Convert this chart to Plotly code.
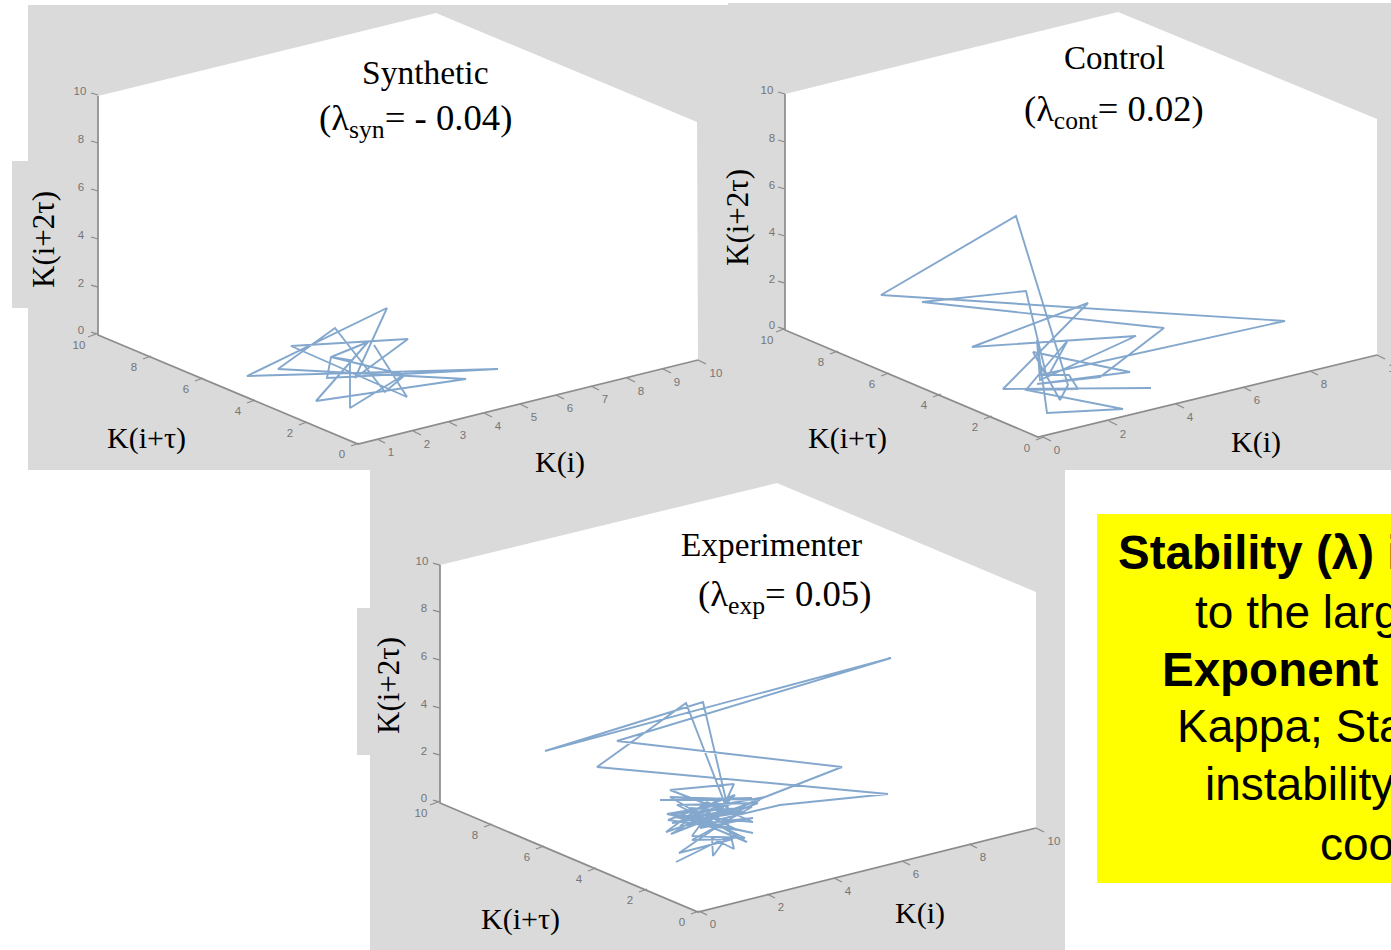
import plotly.graph_objects as go

W, H = 1391, 950

syn_x = [374, 407, 291, 408, 355, 387, 247, 498, 327, 331, 368, 316, 466, 278, 335, 385, 405, 331, 350, 350, 407]
syn_y = [345, 397, 346, 339, 378, 308, 376, 369, 378, 357, 342, 401, 379, 369, 328, 392, 375, 357, 360, 408, 373]

cont_x = [1151, 1003, 1088, 972, 1136, 1040, 1037, 1047, 1123, 1026, 1068, 1047, 1026, 922, 1164, 1100, 1037, 1130,
          1033, 1060, 1068, 1016, 881, 1285, 1040, 1069, 1078, 1026]
cont_y = [388, 389, 303, 347, 336, 380, 340, 413, 409, 390, 340, 378, 291, 302, 328, 377, 384, 372,
          352, 400, 385, 216, 295, 321, 375, 375, 389, 390]

exp_x = [676, 727, 713, 712, 734, 727, 679, 733, 692, 752, 667, 753, 707, 666, 760, 670, 747, 687, 752, 660, 730, 671,
         765, 667, 753, 675, 730, 670, 734, 717, 780, 888, 597, 686, 730, 703, 545, 891, 617, 842, 765, 703, 727,
         672, 745, 690, 738, 668, 735, 700, 753, 680, 720, 692, 745, 677, 758, 727]
exp_y = [862, 837, 856, 838, 849, 820, 853, 839, 840, 807, 814, 822, 802, 832, 800, 797, 842, 817, 798, 800, 800, 834,
         797, 814, 833, 817, 813, 790, 784, 820, 805, 794, 767, 703, 817, 702, 751, 658, 741, 767, 797, 823, 810,
         823, 812, 808, 830, 820, 795, 828, 818, 826, 798, 836, 838, 805, 803, 815]

# Tick labels
z_labels = ["0", "2", "4", "6", "8", "10"]
y_labels = ["0", "2", "4", "6", "8", "10"]
x_labels_syn = ["1", "2", "3", "4", "5", "6", "7", "8", "9", "10"]
x_labels = ["0", "2", "4", "6", "8", "10"]

# Label anchor positions for each panel
syn_z_lx, syn_z_ly = [81, 81, 81, 81, 81, 80], [331, 284, 236, 188, 140, 92]
syn_y_lx, syn_y_ly = [342, 290, 238, 186, 134, 79], [455, 434, 412, 390, 368, 346]
syn_x_lx = [391, 427, 463, 498, 534, 570, 605, 641, 677, 716]
syn_x_ly = [453, 445, 436, 427, 418, 409, 400, 392, 383, 374]

cont_z_lx, cont_z_ly = [772, 772, 772, 772, 772, 767], [326, 280, 233, 186, 139, 91]
cont_y_lx, cont_y_ly = [1027, 975, 924, 872, 821, 767], [449, 428, 406, 385, 363, 341]
cont_x_lx = [1057, 1123, 1190, 1257, 1324, 1395]
cont_x_ly = [451, 435, 418, 401, 385, 369]

exp_z_lx, exp_z_ly = [424, 424, 424, 424, 424, 422], [799, 752, 705, 657, 609, 562]
exp_y_lx, exp_y_ly = [682, 630, 579, 527, 475, 421], [923, 901, 880, 858, 836, 814]
exp_x_lx = [713, 781, 848, 916, 983, 1054]
exp_x_ly = [925, 908, 892, 875, 858, 842]

# Axis corners: back-left-top, back-left-bottom, front, right-bottom
syn_axes_x, syn_axes_y = [98, 98, 358, 698], [96, 335, 444, 360]
cont_axes_x, cont_axes_y = [785, 785, 1038, 1377], [94, 330, 437, 355]
exp_axes_x, exp_axes_y = [440, 440, 698, 1036], [565, 803, 912, 828]

GREY = "#dadada"
AXIS = "#8c8c8c"
LINE = "rgba(72,126,182,0.68)"
TICKTXT = "#757575"
SERIF = "Liberation Serif"
SANS = "Liberation Sans"

fig = go.Figure()


def poly(points, color):
    path = "M " + " L ".join(f"{x},{y}" for x, y in points) + " Z"
    return dict(type="path", path=path, xref="x", yref="y", fillcolor=color, line=dict(width=0), layer="below")


shapes = [
    poly([(28, 5), (728, 5), (728, 3), (1391, 3), (1391, 470), (1065, 470), (1065, 950), (370, 950), (370, 470), (28, 470)], GREY),
    poly([(12, 161), (28, 161), (28, 308), (12, 308)], GREY),
    poly([(357, 608), (370, 608), (370, 755), (357, 755)], GREY),
    poly([(98, 96), (436, 13), (697, 122), (698, 360), (358, 444), (98, 335)], "white"),
    poly([(785, 94), (1118, 12), (1377, 119), (1377, 355), (1038, 437), (785, 330)], "white"),
    poly([(440, 565), (777, 483), (1036, 592), (1036, 828), (698, 912), (440, 803)], "white"),
    poly([(1097, 514), (1391, 514), (1391, 883), (1097, 883)], "#ffff00"),
]


def add_line(xs, ys, color, width):
    fig.add_trace(go.Scatter(x=xs, y=ys, mode="lines", line=dict(color=color, width=width), hoverinfo="skip", showlegend=False))


def add_labels(xs, ys, labels):
    fig.add_trace(go.Scatter(x=xs, y=ys, mode="text", text=labels, textposition="middle center",
                             textfont=dict(family=SANS, size=11.5, color=TICKTXT), hoverinfo="skip", showlegend=False))


def add_panel(ax, ay, zlx, zly, ylx, yly, xlx, xly, xlabels, tx, ty):
    add_line(ax, ay, AXIS, 1.7)
    add_labels(zlx, zly, z_labels)
    add_labels(ylx, yly, y_labels)
    add_labels(xlx, xly, xlabels)
    sx, sy = [], []
    for ly in zly:
        sx += [ax[0] - 7, ax[0], None]
        sy += [ly + 1, ly + 3, None]
    for lx, ly in zip(ylx, yly):
        sx += [lx + 9, lx + 17, None]
        sy += [ly - 9, ly - 12, None]
    for lx, ly, lab in zip(xlx, xly, xlabels):
        off = 18 if lab == "10" else 14
        sx += [lx - off, lx - off + 8, None]
        sy += [ly - 14, ly - 10, None]
    add_line(sx, sy, AXIS, 1.3)
    add_line(tx, ty, LINE, 1.9)


add_panel(syn_axes_x, syn_axes_y, syn_z_lx, syn_z_ly, syn_y_lx, syn_y_ly, syn_x_lx, syn_x_ly, x_labels_syn, syn_x, syn_y)
add_panel(cont_axes_x, cont_axes_y, cont_z_lx, cont_z_ly, cont_y_lx, cont_y_ly, cont_x_lx, cont_x_ly, x_labels, cont_x, cont_y)
add_panel(exp_axes_x, exp_axes_y, exp_z_lx, exp_z_ly, exp_y_lx, exp_y_ly, exp_x_lx, exp_x_ly, x_labels, exp_x, exp_y)


def note(x, y, text, size, family=SERIF, angle=0, anchor="center", color="black"):
    return dict(x=x, y=y, xref="x", yref="y", text=text, showarrow=False, xanchor=anchor, yanchor="middle",
                textangle=angle, font=dict(family=family, size=size, color=color), borderpad=0)


annotations = [
    note(425, 72, "Synthetic", 33.5),
    note(415, 120, "(λ<sub>syn</sub>= - 0.04)", 36.7),
    note(1114, 58, "Control", 33),
    note(1114, 111, "(λ<sub>cont</sub>= 0.02)", 36.5),
    note(771, 544, "Experimenter", 33.3),
    note(784, 596, "(λ<sub>exp</sub>= 0.05)", 36.7),
    note(146, 438, "Κ(i+τ)", 30),
    note(560, 462, "Κ(i)", 30),
    note(43, 240, "Κ(i+2τ)", 31, angle=-90),
    note(847, 438, "Κ(i+τ)", 30),
    note(1256, 442, "Κ(i)", 30),
    note(737, 218, "Κ(i+2τ)", 31, angle=-90),
    note(520, 919, "Κ(i+τ)", 30),
    note(920, 913, "Κ(i)", 30),
    note(388, 686, "Κ(i+2τ)", 31, angle=-90),
    note(1117, 552, "<b>Stability (λ) i</b>", 47.5, SANS, anchor="left"),
    note(1194, 612, "to the larg", 46, SANS, anchor="left"),
    note(1161, 669, "<b>Exponent</b>", 47.5, SANS, anchor="left"),
    note(1176, 726, "Kappa; Sta", 46, SANS, anchor="left"),
    note(1204, 784, "instability", 46, SANS, anchor="left"),
    note(1319, 844, "coo", 46, SANS, anchor="left"),
]

fig.update_layout(
    width=W, height=H, margin=dict(l=0, r=0, t=0, b=0), paper_bgcolor="white", plot_bgcolor="white",
    showlegend=False, shapes=shapes, annotations=annotations,
    xaxis=dict(range=[0, W], visible=False, fixedrange=True),
    yaxis=dict(range=[H, 0], visible=False, fixedrange=True),
)

fig.write_html("out.html", config=dict(displayModeBar=False), post_script="document.body.style.margin='0';")
